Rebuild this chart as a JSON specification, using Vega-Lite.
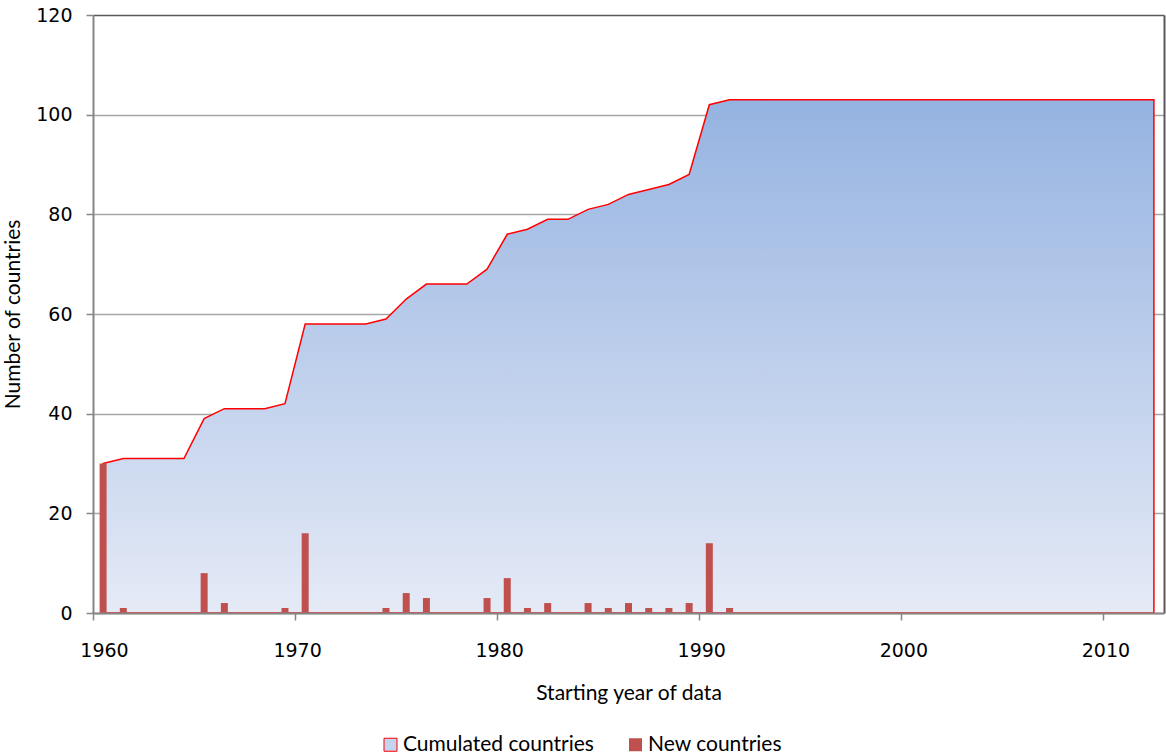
{
  "$schema": "https://vega.github.io/schema/vega-lite/v6.json",
  "width": 1071,
  "height": 598,
  "autosize": {"type": "none"},
  "padding": {"left": 93, "top": 15, "right": 2, "bottom": 143},
  "background": "white",
  "config": {"view": {"stroke": null}},
  "data": {
    "values": [
      {"year": 1960, "cumulated": 30, "new": 30},
      {"year": 1961, "cumulated": 31, "new": 1},
      {"year": 1962, "cumulated": 31, "new": 0},
      {"year": 1963, "cumulated": 31, "new": 0},
      {"year": 1964, "cumulated": 31, "new": 0},
      {"year": 1965, "cumulated": 39, "new": 8},
      {"year": 1966, "cumulated": 41, "new": 2},
      {"year": 1967, "cumulated": 41, "new": 0},
      {"year": 1968, "cumulated": 41, "new": 0},
      {"year": 1969, "cumulated": 42, "new": 1},
      {"year": 1970, "cumulated": 58, "new": 16},
      {"year": 1971, "cumulated": 58, "new": 0},
      {"year": 1972, "cumulated": 58, "new": 0},
      {"year": 1973, "cumulated": 58, "new": 0},
      {"year": 1974, "cumulated": 59, "new": 1},
      {"year": 1975, "cumulated": 63, "new": 4},
      {"year": 1976, "cumulated": 66, "new": 3},
      {"year": 1977, "cumulated": 66, "new": 0},
      {"year": 1978, "cumulated": 66, "new": 0},
      {"year": 1979, "cumulated": 69, "new": 3},
      {"year": 1980, "cumulated": 76, "new": 7},
      {"year": 1981, "cumulated": 77, "new": 1},
      {"year": 1982, "cumulated": 79, "new": 2},
      {"year": 1983, "cumulated": 79, "new": 0},
      {"year": 1984, "cumulated": 81, "new": 2},
      {"year": 1985, "cumulated": 82, "new": 1},
      {"year": 1986, "cumulated": 84, "new": 2},
      {"year": 1987, "cumulated": 85, "new": 1},
      {"year": 1988, "cumulated": 86, "new": 1},
      {"year": 1989, "cumulated": 88, "new": 2},
      {"year": 1990, "cumulated": 102, "new": 14},
      {"year": 1991, "cumulated": 103, "new": 1},
      {"year": 1992, "cumulated": 103, "new": 0},
      {"year": 1993, "cumulated": 103, "new": 0},
      {"year": 1994, "cumulated": 103, "new": 0},
      {"year": 1995, "cumulated": 103, "new": 0},
      {"year": 1996, "cumulated": 103, "new": 0},
      {"year": 1997, "cumulated": 103, "new": 0},
      {"year": 1998, "cumulated": 103, "new": 0},
      {"year": 1999, "cumulated": 103, "new": 0},
      {"year": 2000, "cumulated": 103, "new": 0},
      {"year": 2001, "cumulated": 103, "new": 0},
      {"year": 2002, "cumulated": 103, "new": 0},
      {"year": 2003, "cumulated": 103, "new": 0},
      {"year": 2004, "cumulated": 103, "new": 0},
      {"year": 2005, "cumulated": 103, "new": 0},
      {"year": 2006, "cumulated": 103, "new": 0},
      {"year": 2007, "cumulated": 103, "new": 0},
      {"year": 2008, "cumulated": 103, "new": 0},
      {"year": 2009, "cumulated": 103, "new": 0},
      {"year": 2010, "cumulated": 103, "new": 0},
      {"year": 2011, "cumulated": 103, "new": 0},
      {"year": 2012, "cumulated": 103, "new": 0}
    ]
  },
  "layer": [
    {
      "mark": {
        "type": "area",
        "interpolate": "linear",
        "stroke": "#ff0000",
        "strokeWidth": 1.5,
        "fill": {
          "gradient": "linear",
          "x1": 0, "y1": 0, "x2": 0, "y2": 1,
          "stops": [
            {"offset": 0, "color": "#95b3e1"},
            {"offset": 1, "color": "#e5eaf6"}
          ]
        }
      },
      "encoding": {
        "x": {
          "field": "year",
          "type": "quantitative",
          "scale": {"domain": [1959.5, 2012.5], "nice": false, "zero": false, "padding": 0},
          "axis": {
            "values": [1959.5, 1969.5, 1979.5, 1989.5, 1999.5, 2009.5],
            "labelExpr": "'' + (datum.value + 0.5)",
            "labelFlush": false,
            "grid": false,
            "domainColor": "#868686",
            "domainWidth": 2,
            "tickColor": "#868686",
            "tickSize": 7,
            "tickWidth": 1.5,
            "labelFont": "DejaVu Sans",
            "labelFontSize": 19,
            "labelColor": "#000000",
            "labelPadding": 21,
            "labelOffset": {"condition": {"test": "datum.value < 1960", "value": 11}, "value": 2},
            "title": "Starting year of data",
            "titleFont": "Lato",
            "titleFontSize": 21,
            "titleFontWeight": "normal",
            "titleColor": "#000000",
            "titleX": 535.5,
            "titleY": 86,
            "titleAlign": "center",
            "titleBaseline": "alphabetic",
            "zindex": 1
          }
        },
        "y": {
          "field": "cumulated",
          "type": "quantitative",
          "scale": {"domain": [0, 120], "nice": false},
          "axis": {
            "values": [0, 20, 40, 60, 80, 100, 120],
            "grid": true,
            "gridColor": {"condition": {"test": "datum.value === 120", "value": "#595959"}, "value": "#a6a6a6"},
            "gridWidth": 1.5,
            "domainColor": "#868686",
            "domainWidth": 2,
            "tickColor": "#868686",
            "tickSize": 7,
            "tickWidth": 1.5,
            "labelFont": "DejaVu Sans",
            "labelFontSize": 19,
            "labelColor": "#000000",
            "labelPadding": 14,
            "title": "Number of countries",
            "titleFont": "Lato",
            "titleFontSize": 21,
            "titleFontWeight": "normal",
            "titleColor": "#000000",
            "titleAngle": 270,
            "titleX": -74,
            "titleY": 299,
            "titleAlign": "center",
            "titleBaseline": "alphabetic"
          }
        }
      }
    },
    {
      "mark": {"type": "bar", "width": 7},
      "encoding": {
        "x": {"field": "year", "type": "quantitative"},
        "y": {
          "field": "new",
          "type": "quantitative",
          "axis": {
            "orient": "right",
            "labels": false,
            "ticks": false,
            "grid": false,
            "title": null,
            "domainColor": "#595959",
            "domainWidth": 2
          }
        },
        "color": {
          "datum": "New countries",
          "scale": {"domain": ["Cumulated countries", "New countries"], "range": ["#c4d3ee", "#c0504d"]},
          "legend": {
            "orient": "none",
            "legendX": 287,
            "legendY": 719,
            "direction": "horizontal",
            "title": null,
            "padding": 0,
            "symbolType": "square",
            "symbolSize": 169,
            "symbolStrokeWidth": 1,
            "labelFont": "Lato",
            "labelFontSize": 21,
            "labelColor": "#000000",
            "labelLimit": 400,
            "labelOffset": 2,
            "columnPadding": 31,
            "encode": {
              "symbols": {
                "update": {
                  "fill": [
                    {"test": "datum.value === 'Cumulated countries'", "value": {"gradient": "linear", "x1": 0, "y1": 0, "x2": 0, "y2": 1, "stops": [{"offset": 0, "color": "#95b3e1"}, {"offset": 1, "color": "#e5eaf6"}]}},
                    {"value": "#c0504d"}
                  ],
                  "stroke": [
                    {"test": "datum.value === 'Cumulated countries'", "value": "#ff0000"},
                    {"value": "transparent"}
                  ],
                  "opacity": {"value": 1}
                }
              }
            }
          }
        }
      }
    }
  ],
  "resolve": {"axis": {"y": "independent"}}
}
